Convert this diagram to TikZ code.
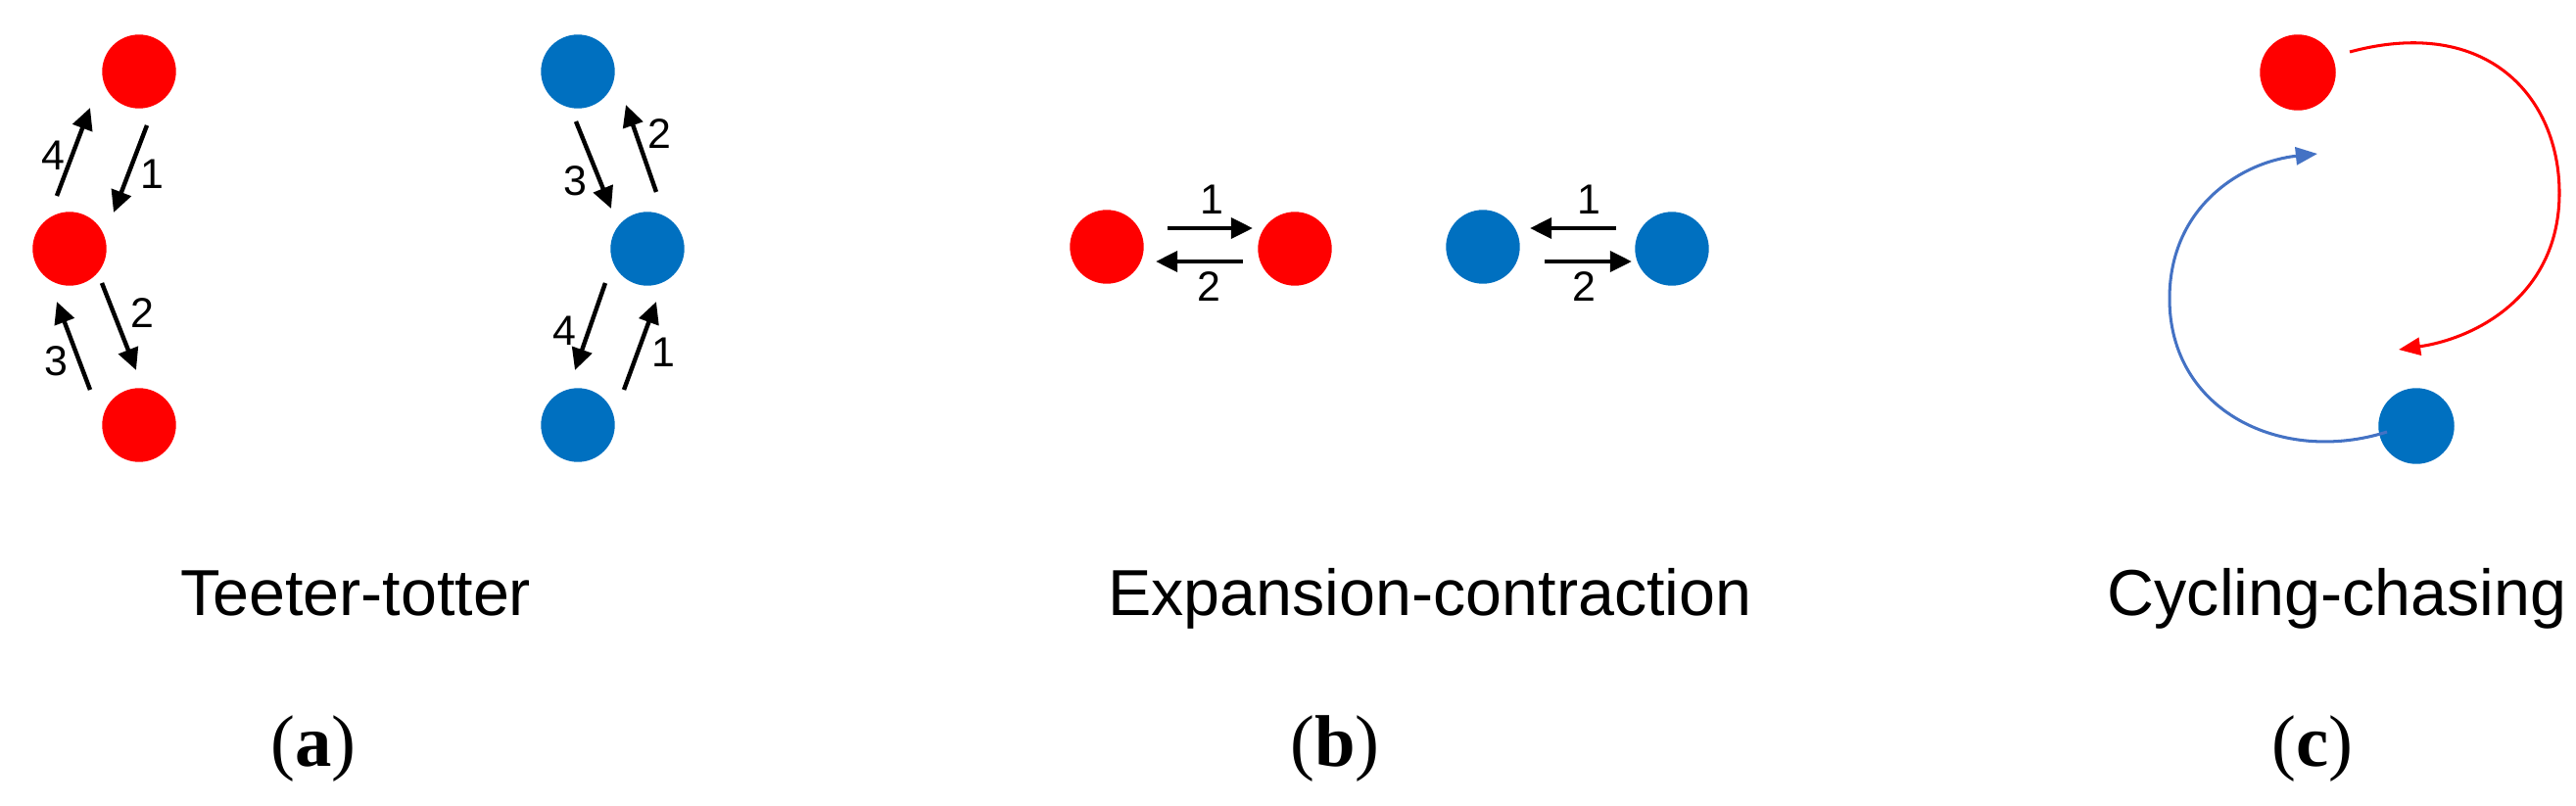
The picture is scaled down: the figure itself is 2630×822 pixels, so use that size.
\documentclass[tikz,border=0pt]{standalone}
\usepackage{fontspec}
\setmainfont{Liberation Sans}
\newfontfamily\capserif{Liberation Serif}
\usetikzlibrary{arrows.meta}
\definecolor{dred}{HTML}{FF0000}
\definecolor{dblue}{HTML}{0070C0}
\definecolor{lblue}{HTML}{4472C4}
\begin{document}
\begin{tikzpicture}[x=0.0254cm,y=-0.0254cm,
  dot/.style={circle,inner sep=0,minimum size=54.5pt},
  rdot/.style={dot,fill=dred},
  bdot/.style={dot,fill=dblue},
  arr/.style={line width=3.2pt,-{Triangle[length=16pt,width=15pt]}},
  num/.style={font=\fontsize{31}{31}\selectfont},
  captext/.style={font=\fontsize{48}{48}\selectfont},
  sub/.style={font=\capserif\fontsize{54}{54}\selectfont}]
\useasboundingbox (0,0) rectangle (2630,822);
% (a) red
\node[rdot] (r1) at (142,73) {};
\node[rdot] (r2) at (71,254) {};
\node[rdot] (r3) at (142,434) {};
\draw[arr] (150,128) -- (116,217);
\draw[arr] (58,200) -- (92,110);
\draw[arr] (104,289) -- (139,378);
\draw[arr] (92,398) -- (58,308);
\node[num] (ra4) at (54,159) {4};
\node[num] (ra1) at (155,178) {1};
\node[num] (ra2) at (145,320) {2};
\node[num] (ra3) at (57,369) {3};
% (a) blue
\node[bdot] (b1) at (590,73) {};
\node[bdot] (b2) at (661,254) {};
\node[bdot] (b3) at (590,434) {};
\draw[arr] (588,124) -- (624,213);
\draw[arr] (670,196) -- (639,107);
\draw[arr] (618,289) -- (587,378);
\draw[arr] (637,398) -- (670,308);
\node[num] (ba3) at (587,185) {3};
\node[num] (ba2) at (673,137) {2};
\node[num] (ba4) at (576,338) {4};
\node[num] (ba1) at (677,360) {1};
\node[captext] (ta) at (363,606) {Teeter-totter};
\node[sub] (la) at (320,765) {(\textbf{a})};
% (b)
\node[rdot] (e1) at (1130,252) {};
\node[rdot] (e2) at (1322,254) {};
\node[bdot] (e3) at (1514,252) {};
\node[bdot] (e4) at (1707,254) {};
\draw[arr] (1192,233) -- (1279,233);
\draw[arr] (1269,267) -- (1180,267);
\draw[arr] (1650,233) -- (1562,233);
\draw[arr] (1577,267) -- (1666,267);
\node[num] (eb1) at (1237,204) {1};
\node[num] (eb2) at (1234,293) {2};
\node[num] (eb3) at (1622,204) {1};
\node[num] (eb4) at (1617,293) {2};
\node[captext] (tb) at (1460,611) {Expansion-contraction};
\node[sub] (lb) at (1363,765) {(\textbf{b})};
% (c)
\node[rdot,minimum size=56pt] (c1) at (2346,74) {};
\node[bdot,minimum size=56pt] (c2) at (2467,435) {};
\coordinate (rs) at (2399,53);
\coordinate (re) at (2449,357);
\coordinate (bs) at (2437,441);
\coordinate (be) at (2366,157);
\draw[dred,line width=2.2pt,-{Triangle[length=16pt,width=13pt]}] (rs) .. controls (2540,15) and (2613,100) .. (2613,197) .. controls (2613,300) and (2530,345) .. (re);
\draw[lblue,line width=2.2pt,-{Triangle[length=16pt,width=13pt]}] (bs) .. controls (2330,475) and (2215,420) .. (2215,305) .. controls (2215,210) and (2290,165) .. (be);
\node[captext] (tc) at (2386,611) {Cycling-chasing};
\node[sub] (lc) at (2361,765) {(\textbf{c})};
\end{tikzpicture}
\end{document}
